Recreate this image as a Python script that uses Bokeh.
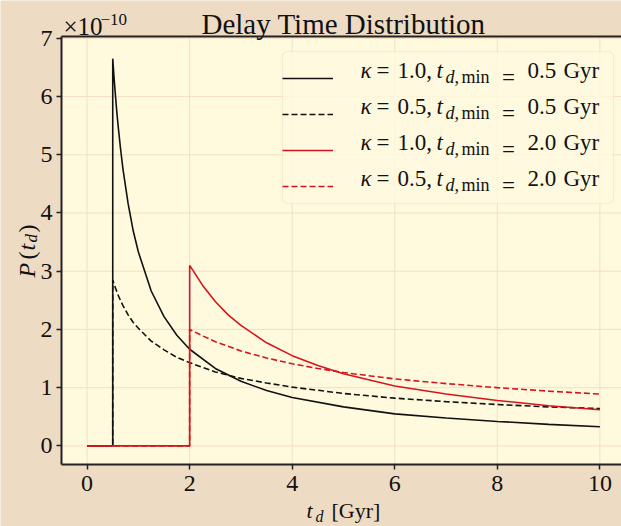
import math
from bokeh.plotting import figure
from bokeh.models import (Range1d, FixedTicker, LinearAxis, Label, Legend, LegendItem,
                          BoxAnnotation, Grid)
from bokeh.embed import file_html
from bokeh.resources import INLINE

# ---------------- data (P in units of 1e-10) ----------------
EXPONENT_TEXT = "−10"
t_early = [0.0, 0.5, 0.5, 0.525, 0.55, 0.575, 0.6, 0.65, 0.7, 0.8, 0.9, 1.0, 1.25, 1.5,
           1.75, 2.0, 2.5, 3.0, 3.5, 4.0, 5.0, 6.0, 7.0, 8.0, 9.0, 10.0]
P_k10_t05 = [0.0, 0.0, 6.65, 6.33, 6.05, 5.78, 5.54, 5.12, 4.75, 4.16, 3.69, 3.33, 2.66, 2.22,
             1.90, 1.66, 1.33, 1.11, 0.95, 0.83, 0.67, 0.55, 0.48, 0.42, 0.37, 0.33]
P_k05_t05 = [0.0, 0.0, 2.85, 2.78, 2.72, 2.66, 2.60, 2.50, 2.41, 2.25, 2.12, 2.02, 1.80, 1.65,
             1.52, 1.43, 1.27, 1.16, 1.08, 1.01, 0.90, 0.82, 0.76, 0.71, 0.67, 0.64]
t_late = [0.0, 2.0, 2.0, 2.25, 2.5, 2.75, 3.0, 3.5, 4.0, 4.5, 5.0, 6.0, 7.0, 8.0, 9.0, 10.0]
P_k10_t20 = [0.0, 0.0, 3.10, 2.76, 2.48, 2.25, 2.07, 1.77, 1.55, 1.38, 1.24, 1.03, 0.89, 0.78, 0.69, 0.62]
P_k05_t20 = [0.0, 0.0, 2.00, 1.89, 1.79, 1.71, 1.63, 1.51, 1.41, 1.33, 1.26, 1.15, 1.07, 1.00, 0.94, 0.89]

kappa_labels = ["1.0", "0.5", "1.0", "0.5"]
tmin_labels = ["0.5", "0.5", "2.0", "2.0"]
x_ticks = [0, 2, 4, 6, 8, 10]
y_ticks = [0, 1, 2, 3, 4, 5, 6, 7]

# ---------------- layout ----------------
W, H = 621, 526
SX, SY = 51.28, 58.23          # pixels per data unit
OX, OY = 86.6, 445.4           # pixel position of data (0, 0)
AX_L, AX_R, AX_B, AX_T = -0.5, 10.5, -0.32, 7.03   # axes box (data units)
FONT = "Liberation Serif"
INK = "#111111"
SPINE = "#222222"
RED = "#d7141e"
OUTER = "#eedbc3"
INNER = "#fff9de"
GRID = "#f6dfc3"


def px2x(px):
    return (px - OX) / SX


def py2y(py):
    return (OY - py) / SY


p = figure(width=W, height=H,
           x_range=Range1d(px2x(0), px2x(W)), y_range=Range1d(py2y(H), py2y(0)),
           output_backend="svg", toolbar_location=None,
           x_axis_location=None, y_axis_location=None,
           min_border_left=0, min_border_right=0, min_border_top=0, min_border_bottom=0)
p.background_fill_color = OUTER
p.border_fill_color = OUTER
p.outline_line_color = None
for g in list(p.center):
    if isinstance(g, Grid):
        g.visible = False

# axes box background
p.add_layout(BoxAnnotation(left=AX_L, right=AX_R, bottom=AX_B, top=AX_T,
                           fill_color=INNER, fill_alpha=1.0, line_color=None, level="underlay"))

# grid lines
p.segment(x0=x_ticks, y0=[AX_B] * len(x_ticks), x1=x_ticks, y1=[AX_T] * len(x_ticks),
          line_color=GRID, line_width=1)
p.segment(x0=[AX_L] * len(y_ticks), y0=y_ticks, x1=[AX_R] * len(y_ticks), y1=y_ticks,
          line_color=GRID, line_width=1)


def style_axis(ax, standoff):
    ax.axis_line_color = SPINE
    ax.axis_line_width = 2
    ax.major_tick_line_color = SPINE
    ax.major_tick_line_width = 1.5
    ax.major_tick_out = 5
    ax.major_tick_in = 0
    ax.minor_tick_line_color = None
    ax.major_label_text_font = FONT
    ax.major_label_text_font_size = "24px"
    ax.major_label_text_color = INK
    ax.major_label_standoff = standoff


xax = LinearAxis(fixed_location=AX_B, ticker=FixedTicker(ticks=x_ticks), bounds=(AX_L, AX_R))
yax = LinearAxis(fixed_location=AX_L, ticker=FixedTicker(ticks=y_ticks), bounds=(AX_B, AX_T))
tax = LinearAxis(fixed_location=AX_T, ticker=FixedTicker(ticks=[]), bounds=(AX_L, AX_R))
style_axis(xax, 6)
style_axis(yax, 4)
style_axis(tax, 4)
p.add_layout(xax, "below")
p.add_layout(yax, "left")
p.add_layout(tax, "above")

# curves
r1 = p.line(t_early, P_k10_t05, line_color=INK, line_width=1.6)
r2 = p.line(t_early, P_k05_t05, line_color=INK, line_width=1.6, line_dash="6 3")
r3 = p.line(t_late, P_k10_t20, line_color=RED, line_width=1.6)
r4 = p.line(t_late, P_k05_t20, line_color=RED, line_width=1.6, line_dash="6 3")
rends = [r1, r2, r3, r4]

# legend frame (pixels): left 282, right 613, top 51, bottom 203
LEG_L, LEG_R, LEG_T, LEG_B = 282, 613, 51, 203
frame_box = BoxAnnotation(left=px2x(LEG_L), right=px2x(LEG_R), top=py2y(LEG_T),
                          bottom=py2y(LEG_B), fill_color=INNER, fill_alpha=0.8,
                          line_color="#e2cfb0", line_width=1.2)
try:
    frame_box.border_radius = 5
except Exception:
    pass
p.add_layout(frame_box)

ROW0, PITCH = 69.5, 36
legend_bottom = ROW0 + 3 * PITCH + 14 + 8
legend = Legend(items=[LegendItem(label="=", renderers=[r]) for r in rends],
                location=(LEG_L, H - legend_bottom), orientation="vertical",
                padding=8, spacing=8, margin=0,
                glyph_width=51, glyph_height=28, label_height=28, label_width=96,
                label_standoff=169, label_text_font=FONT, label_text_font_size="23px",
                label_text_color=INK, label_text_baseline="middle",
                background_fill_alpha=0.0, border_line_color=None)
p.add_layout(legend, "center")


def lab(px, py, text, size, italic=False, angle=0.0, align="left"):
    # py is the pixel row of the text's middle line
    p.add_layout(Label(x=px2x(px), y=py2y(py), text=text, text_font=FONT,
                       text_font_size=f"{size}px",
                       text_font_style="italic" if italic else "normal",
                       angle=angle, text_align=align, text_baseline="middle",
                       text_color=INK))


for i in range(4):
    c = ROW0 + PITCH * i
    sub = c + 6.5
    lab(360, c, "κ", 23, italic=True)
    lab(376, c, "=", 23)
    lab(397, c, kappa_labels[i] + ",", 23)
    lab(436, c, "t", 23, italic=True)
    lab(445, sub, "d", 18, italic=True)
    lab(454, sub, ",", 18)
    lab(461, sub, "min", 18)
    lab(527, c, tmin_labels[i], 23)
    lab(563, c, "Gyr", 23)

# title
lab(343, 23, "Delay Time Distribution", 29, align="center")
# offset text
lab(63, 26, "×10", 25)
lab(100, 19, EXPONENT_TEXT, 17)
# x label
lab(306, 510, "t", 22, italic=True)
lab(315, 516, "d", 16, italic=True)
lab(331, 510, "[Gyr]", 22)


# y label (rotated, reads bottom to top); middle line at x=26
def ylab(px, py, text, size, italic=False):
    p.add_layout(Label(x=px2x(px), y=py2y(py), text=text, text_font=FONT,
                       text_font_size=f"{size}px",
                       text_font_style="italic" if italic else "normal",
                       angle=math.pi / 2, text_align="left", text_baseline="middle",
                       text_color=INK))


ylab(26, 277, "P", 24, italic=True)
ylab(26, 259, "(", 24)
ylab(26, 250, "t", 24, italic=True)
ylab(31, 242, "d", 17, italic=True)
ylab(26, 232, ")", 24)

open("out.html", "w").write(file_html(p, INLINE))
